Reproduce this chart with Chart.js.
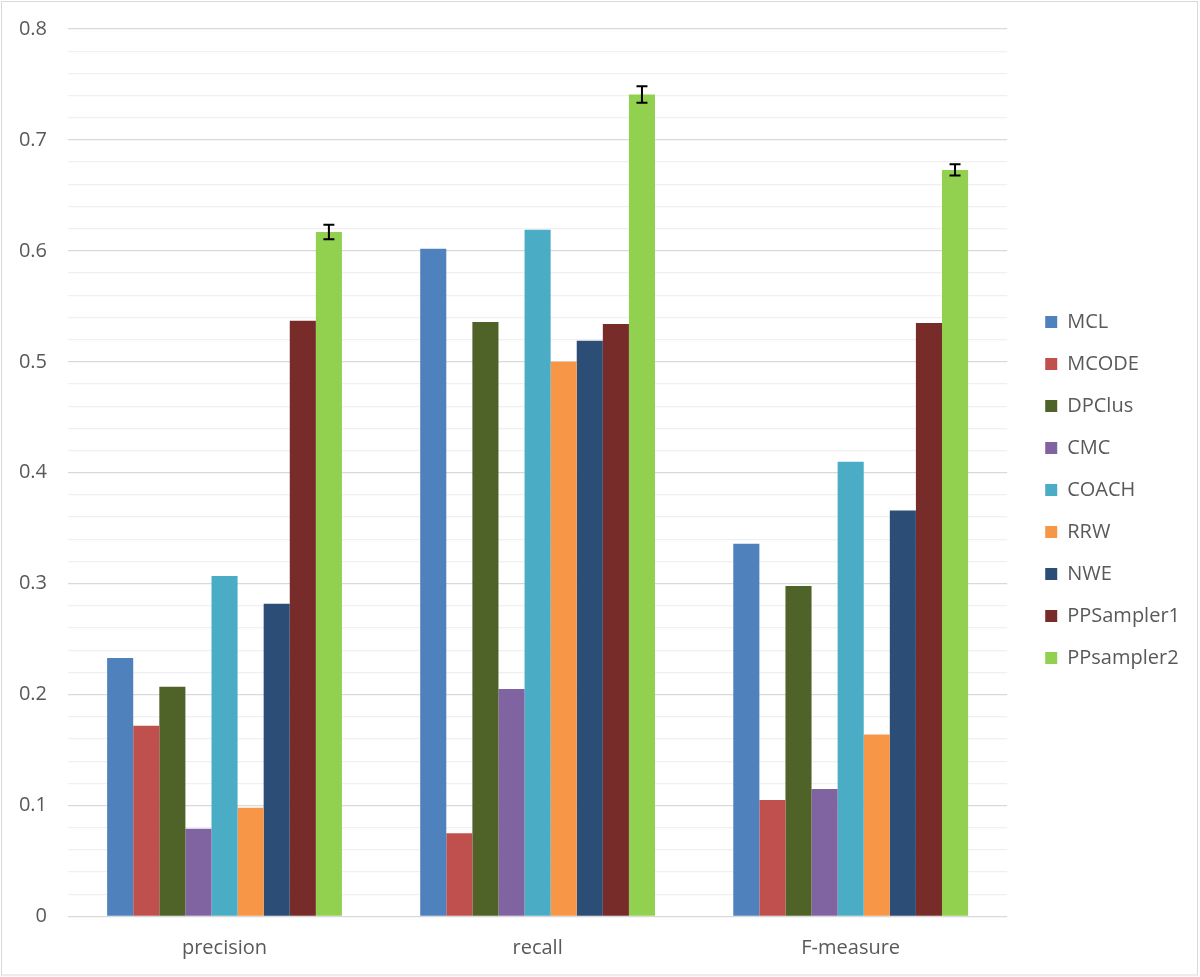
<!DOCTYPE html>
<html>
<head>
<meta charset="utf-8">
<script src="https://cdn.jsdelivr.net/npm/chart.js@4/dist/chart.umd.min.js"></script>
<style>
  body { margin: 0; background: #fff; }
</style>
</head>
<body>
<canvas id="myChart" width="1200" height="977"></canvas>
<script>
// categories on the x axis
var categories = ['precision', 'recall', 'F-measure'];

// one value per category for each method
var methods = ['MCL', 'MCODE', 'DPClus', 'CMC', 'COACH', 'RRW', 'NWE', 'PPSampler1', 'PPsampler2'];
var MCL        = [0.233, 0.602, 0.336];
var MCODE      = [0.172, 0.075, 0.105];
var DPClus     = [0.207, 0.536, 0.298];
var CMC        = [0.079, 0.205, 0.115];
var COACH      = [0.307, 0.619, 0.410];
var RRW        = [0.098, 0.500, 0.164];
var NWE        = [0.282, 0.519, 0.366];
var PPSampler1 = [0.537, 0.534, 0.535];
var PPsampler2 = [0.617, 0.741, 0.673];
// error bar half-width for PPsampler2
var PPsampler2_err = [0.0065, 0.0075, 0.005];

var colors = ['#4F81BD', '#C0504D', '#4F6228', '#8064A2', '#4BACC6', '#F79646', '#2C4D75', '#772C2A', '#92D050'];
var series = [MCL, MCODE, DPClus, CMC, COACH, RRW, NWE, PPSampler1, PPsampler2];

var datasets = [];
methods.forEach(function(name, i) {
	datasets.push({
		label: name,
		data: series[i],
		backgroundColor: colors[i],
		borderWidth: 0
	});
});

function isMajor(v) {
	return Math.abs(v * 10 - Math.round(v * 10)) < 1e-6;
}

var errorBars = {
	id: 'errorBars',
	afterInit: function(chart) {
		// widen the legend box and nudge its items to where the original has them
		var legend = chart.legend;
		var fit = legend.fit, draw = legend.draw;
		legend.fit = function() {
			fit.call(this);
			if (!this.isHorizontal()) this.width += 24;
		};
		legend.draw = function() {
			var c = this.ctx;
			c.save();
			c.translate(16, -13);
			draw.call(this);
			c.restore();
		};
	},
	afterDatasetsDraw: function(chart) {
		var ctx = chart.ctx;
		var meta = chart.getDatasetMeta(8);
		var y = chart.scales.y;
		ctx.save();
		ctx.strokeStyle = '#000';
		ctx.lineWidth = 2;
		meta.data.forEach(function(bar, i) {
			var v = PPsampler2[i], e = PPsampler2_err[i];
			var y1 = y.getPixelForValue(v + e), y2 = y.getPixelForValue(v - e);
			ctx.beginPath();
			ctx.moveTo(bar.x, y1); ctx.lineTo(bar.x, y2);
			ctx.moveTo(bar.x - 5.5, y1); ctx.lineTo(bar.x + 5.5, y1);
			ctx.moveTo(bar.x - 5.5, y2); ctx.lineTo(bar.x + 5.5, y2);
			ctx.stroke();
		});
		ctx.restore();
	},
	afterDraw: function(chart) {
		var ctx = chart.ctx;
		ctx.save();
		ctx.strokeStyle = '#d9d9d9';
		ctx.lineWidth = 1;
		ctx.strokeRect(1.5, 1.5, 1196, 973.5);
		ctx.restore();
	}
};

var ctx = document.getElementById('myChart').getContext('2d');
var myChart = new Chart(ctx, {
	type: 'bar',
	data: { labels: categories, datasets: datasets },
	options: {
		responsive: false,
		animation: false,
		devicePixelRatio: 1,
		layout: { padding: { left: 0, top: 29, right: 2, bottom: 0 } },
		datasets: { bar: { barPercentage: 1, categoryPercentage: 0.75 } },
		scales: {
			x: {
				grid: { display: false },
				border: { display: false },
				ticks: { color: '#595959', font: { family: 'Open Sans', size: 20 }, padding: 12 },
				afterFit: function(s) { s.height = 60.5; }
			},
			y: {
				min: 0, max: 0.8,
				border: { display: false },
				grid: {
					drawTicks: false,
					color: function(c) { return isMajor(c.tick.value) ? '#d9d9d9' : '#f0f0f0'; },
					lineWidth: 1.3
				},
				ticks: {
					stepSize: 0.02,
					autoSkip: false,
					padding: 21,
					color: '#595959',
					font: { family: 'Open Sans', size: 20 },
					callback: function(v) {
						if (!isMajor(v)) return '';
						return String(Math.round(v * 10) / 10);
					}
				},
				afterFit: function(s) { s.width = 68; s.paddingTop = 0; s.paddingBottom = 0; }
			}
		},
		plugins: {
			legend: {
				position: 'right',
				labels: {
					boxWidth: 12, boxHeight: 12, padding: 22,
					color: '#595959',
					font: { family: 'Open Sans', size: 20 }
				}
			},
			tooltip: { enabled: false }
		}
	},
	plugins: [errorBars]
});
</script>
</body>
</html>
